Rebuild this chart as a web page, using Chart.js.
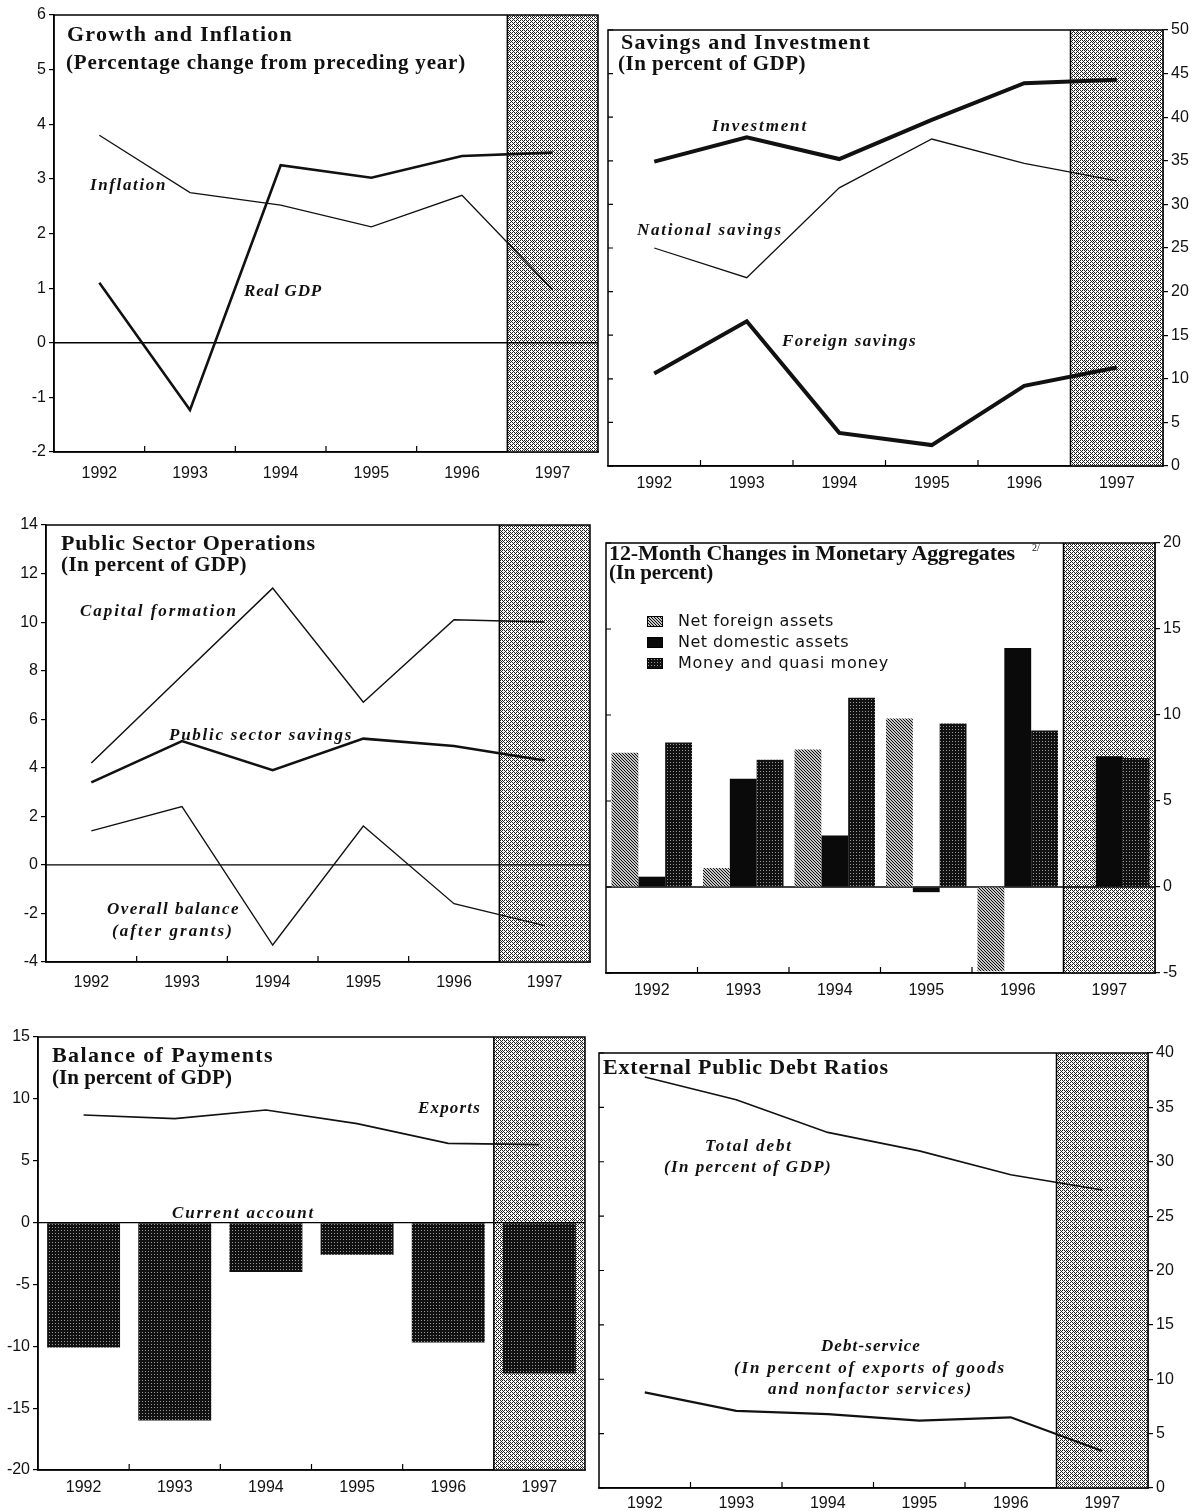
<!DOCTYPE html>
<html>
<head>
<meta charset="utf-8">
<script src="https://cdn.jsdelivr.net/npm/chart.js@4.4.1/dist/chart.umd.min.js"></script>
<style>
  body { margin: 0; background: #fff; width: 1200px; height: 1511px; position: relative; overflow: hidden; }
  canvas { position: absolute; }
  .t { position: absolute; white-space: nowrap; line-height: 1; color: #111; z-index: 5;
       font-family: 'Liberation Serif', 'DejaVu Serif', serif; font-weight: bold; }
  .h { font-size: 22px; }
  .h2 { font-size: 21px; }
  .a { font-size: 17px; font-style: italic; }
  .sup { font-size: 10px; font-weight: normal; }
  .lg { font-family: 'DejaVu Sans', sans-serif; font-weight: normal; font-size: 16px; }
</style>
</head>
<body>
<canvas id="growth"></canvas>
<canvas id="savings"></canvas>
<canvas id="public"></canvas>
<canvas id="money"></canvas>
<canvas id="bop"></canvas>
<canvas id="debt"></canvas>
<script>
const years = ['1992', '1993', '1994', '1995', '1996', '1997'];

// Growth and Inflation (percentage change from preceding year)
const growthTicks = [-2, -1, 0, 1, 2, 3, 4, 5, 6];
const inflation = [3.8, 2.75, 2.52, 2.12, 2.7, 0.97];
const realGdp = [1.1, -1.23, 3.25, 3.02, 3.42, 3.48];

// Savings and Investment (in percent of GDP)
const savingsTicks = [0, 5, 10, 15, 20, 25, 30, 35, 40, 45, 50];
const investment = [34.9, 37.7, 35.2, 39.7, 43.9, 44.3];
const nationalSavings = [25.0, 21.6, 31.9, 37.5, 34.7, 32.7];
const foreignSavings = [10.6, 16.6, 3.8, 2.4, 9.2, 11.3];

// Public Sector Operations (in percent of GDP)
const publicTicks = [-4, -2, 0, 2, 4, 6, 8, 10, 12, 14];
const capitalFormation = [4.2, 7.8, 11.4, 6.7, 10.1, 10.0];
const publicSavings = [3.4, 5.1, 3.9, 5.2, 4.9, 4.3];
const overallBalance = [1.4, 2.4, -3.3, 1.6, -1.6, -2.5];

// 12-Month Changes in Monetary Aggregates (in percent)
const moneyTicks = [-5, 0, 5, 10, 15, 20];
const netForeignAssets = [7.8, 1.1, 8.0, 9.8, -4.9, 0];
const netDomesticAssets = [0.6, 6.3, 3.0, -0.3, 13.9, 7.6];
const moneyQuasiMoney = [8.4, 7.4, 11.0, 9.5, 9.1, 7.5];

// Balance of Payments (in percent of GDP)
const bopTicks = [-20, -15, -10, -5, 0, 5, 10, 15];
const exportsGdp = [8.7, 8.4, 9.1, 8.0, 6.4, 6.3];
const currentAccount = [-10.1, -16.0, -4.0, -2.6, -9.7, -12.2];

// External Public Debt Ratios
const debtTicks = [0, 5, 10, 15, 20, 25, 30, 35, 40];
const totalDebt = [37.8, 35.7, 32.7, 31.0, 28.8, 27.4];
const debtService = [8.8, 7.1, 6.8, 6.2, 6.5, 3.4];

const tickFont = { family: "'Liberation Sans Narrow', 'Liberation Sans', Arial, sans-serif", size: 16 };

function makePattern(size, paint) {
  const c = document.createElement('canvas');
  c.width = size; c.height = size;
  const g = c.getContext('2d');
  paint(g, size);
  return g.createPattern(c, 'repeat');
}

// stippled texture for the 1997 projection column
const shadeFill = makePattern(8, (g, s) => {
  g.fillStyle = '#fff'; g.fillRect(0, 0, s, s);
  g.fillStyle = '#222';
  for (let y = 0; y < s; y++) {
    for (let x = 0; x < s; x++) {
      if ((x + y) % 4 === 0 || ((x - y + s) % 4 === 2 && x % 2 === 0) || (x === 5 && y === 1)) {
        g.fillRect(x, y, 1, 1);
      }
    }
  }
});

const hatchFill = makePattern(6, (g, s) => {
  g.fillStyle = '#c4c4c4'; g.fillRect(0, 0, s, s);
  g.fillStyle = '#111';
  for (let y = 0; y < s; y++) {
    for (let x = 0; x < s; x++) {
      if ((x - y + s) % 3 === 0) g.fillRect(x, y, 1, 1);
    }
  }
});

const dotFill = makePattern(3, (g, s) => {
  g.fillStyle = '#111'; g.fillRect(0, 0, s, s);
  g.fillStyle = '#999'; g.fillRect(1, 1, 1, 1);
});

// frame, 1997 shading, zero line and small ticks
const panelDeco = {
  id: 'panelDeco',
  beforeDatasetsDraw(chart, args, opts) {
    const { ctx, chartArea: a, scales: { x, y } } = chart;
    const step = x.getPixelForValue(1) - x.getPixelForValue(0);
    const sx = x.getPixelForValue(4) + step / 2;
    ctx.save();
    ctx.fillStyle = shadeFill;
    ctx.fillRect(sx, a.top, a.right - sx, a.bottom - a.top);
    ctx.strokeStyle = '#000';
    ctx.lineWidth = 1.5;
    ctx.beginPath();
    ctx.moveTo(sx, a.top); ctx.lineTo(sx, a.bottom);
    ctx.stroke();
    ctx.strokeRect(a.left, a.top, a.right - a.left, a.bottom - a.top);

    ctx.lineWidth = 1.2;
    ctx.beginPath();
    for (let i = 0; i < 4; i++) {
      const px = x.getPixelForValue(i) + step / 2;
      ctx.moveTo(px, a.bottom); ctx.lineTo(px, a.bottom - 6);
    }
    if (opts.innerLeft) {
      y.ticks.forEach(t => {
        const py = y.getPixelForValue(t.value);
        ctx.moveTo(a.left, py); ctx.lineTo(a.left + 5, py);
      });
    }
    ctx.stroke();

    if (opts.zero) {
      const zy = y.getPixelForValue(0);
      ctx.lineWidth = 1.3;
      ctx.beginPath();
      ctx.moveTo(a.left, zy); ctx.lineTo(a.right, zy);
      ctx.stroke();
    }
    ctx.restore();
  }
};

function line(data, width) {
  return { type: 'line', data, borderColor: '#111', borderWidth: width, pointRadius: 0,
           tension: 0, fill: false, order: 0 };
}

function panel(id, geo, yTicks, datasets, deco, barOpts) {
  const cv = document.getElementById(id);
  cv.width = geo.cw; cv.height = geo.ch;
  cv.style.left = geo.cx + 'px'; cv.style.top = geo.cy + 'px';
  const right = geo.side === 'right';
  const yW = right ? geo.cx + geo.cw - geo.r : geo.l - geo.cx;
  const xH = geo.cy + geo.ch - geo.b;
  return new Chart(cv, {
    type: 'bar',
    data: { labels: years, datasets },
    plugins: [panelDeco],
    options: {
      responsive: false,
      animation: false,
      events: [],
      layout: {
        padding: {
          left: right ? geo.l - geo.cx : 0,
          right: right ? 0 : geo.cx + geo.cw - geo.r,
          top: geo.t - geo.cy,
          bottom: 0
        }
      },
      datasets: { bar: Object.assign({ borderWidth: 0 }, barOpts || {}) },
      plugins: { legend: { display: false }, tooltip: { enabled: false }, panelDeco: deco },
      scales: {
        x: {
          offset: true,
          grid: { display: false },
          border: { display: true, color: '#000', width: 1.5 },
          ticks: { color: '#111', font: tickFont, padding: geo.xPad, maxRotation: 0, autoSkip: false },
          afterFit(s) { s.height = xH; }
        },
        y: {
          position: geo.side,
          min: yTicks[0],
          max: yTicks[yTicks.length - 1],
          ticks: { stepSize: yTicks[1] - yTicks[0], color: '#111', font: tickFont, padding: 3 },
          grid: { drawOnChartArea: false, drawTicks: true, tickLength: 5, color: '#000', lineWidth: 1.2 },
          border: { display: true, color: '#000', width: 1.5 },
          afterFit(s) { s.width = yW; }
        }
      }
    }
  });
}

panel('growth', { cx: 0, cy: 0, cw: 600, ch: 490, l: 54, t: 15, r: 598, b: 452, side: 'left', xPad: 4 },
  growthTicks, [line(inflation, 1.3), line(realGdp, 2.6)], { zero: true });

panel('savings', { cx: 600, cy: 0, cw: 600, ch: 490, l: 608, t: 30, r: 1163, b: 466, side: 'right', xPad: 0 },
  savingsTicks, [line(investment, 4), line(nationalSavings, 1.3), line(foreignSavings, 4)], { innerLeft: true });

panel('public', { cx: 0, cy: 500, cw: 600, ch: 500, l: 46, t: 525, r: 590, b: 962, side: 'left', xPad: 3 },
  publicTicks, [line(capitalFormation, 1.5), line(publicSavings, 2.6), line(overallBalance, 1.3)], { zero: true });

panel('money', { cx: 600, cy: 500, cw: 600, ch: 500, l: 606, t: 543, r: 1155, b: 973, side: 'right', xPad: 0 },
  moneyTicks, [
    { label: 'Net foreign assets', data: netForeignAssets, backgroundColor: hatchFill },
    { label: 'Net domestic assets', data: netDomesticAssets, backgroundColor: '#0a0a0a' },
    { label: 'Money and quasi money', data: moneyQuasiMoney, backgroundColor: dotFill }
  ], { zero: true, innerLeft: true }, { categoryPercentage: 0.88, barPercentage: 1 });

panel('bop', { cx: 0, cy: 1010, cw: 600, ch: 501, l: 38, t: 1037, r: 585, b: 1470, side: 'left', xPad: 0 },
  bopTicks, [
    { label: 'Current account', data: currentAccount, backgroundColor: dotFill, order: 1 },
    line(exportsGdp, 1.6)
  ], { zero: true }, { categoryPercentage: 1, barPercentage: 0.8 });

panel('debt', { cx: 590, cy: 1010, cw: 610, ch: 501, l: 599, t: 1053, r: 1148, b: 1488, side: 'right', xPad: -2 },
  debtTicks, [line(totalDebt, 1.6), line(debtService, 2.2)], { innerLeft: true });

// titles and in-chart labels: text, left x, centre y, target width, class
const texts = [
  ['Growth and Inflation', 67, 34, 226, 'h'],
  ['(Percentage change from preceding year)', 66, 62, 400, 'h2'],
  ['Inflation', 90, 184, 77, 'a'],
  ['Real GDP', 244, 290, 78, 'a'],
  ['Savings and Investment', 621, 42, 250, 'h'],
  ['(In percent of GDP)', 618, 63, 188, 'h2'],
  ['Investment', 712, 125, 96, 'a'],
  ['National savings', 637, 229, 146, 'a'],
  ['Foreign savings', 782, 340, 135, 'a'],
  ['Public Sector Operations', 61, 543, 255, 'h'],
  ['(In percent of GDP)', 61, 564, 186, 'h2'],
  ['Capital formation', 80, 610, 158, 'a'],
  ['Public sector savings', 169, 734, 184, 'a'],
  ['Overall balance', 107, 908, 133, 'a'],
  ['(after grants)', 112, 930, 122, 'a'],
  ['12-Month Changes in Monetary Aggregates', 609, 553, 406, 'h'],
  ['2/', 1032, 548, 8, 'sup'],
  ['(In percent)', 609, 572, 104, 'h2'],
  ['Net foreign assets', 678, 621, 156, 'lg'],
  ['Net domestic assets', 678, 642, 171, 'lg'],
  ['Money and quasi money', 678, 663, 211, 'lg'],
  ['Balance of Payments', 52, 1055, 222, 'h'],
  ['(In percent of GDP)', 52, 1077, 180, 'h2'],
  ['Exports', 418, 1107, 63, 'a'],
  ['Current account', 172, 1212, 143, 'a'],
  ['External Public Debt Ratios', 603, 1067, 286, 'h'],
  ['Total debt', 705, 1145, 88, 'a'],
  ['(In percent of GDP)', 664, 1166, 168, 'a'],
  ['Debt-service', 821, 1345, 100, 'a'],
  ['(In percent of exports of goods', 734, 1367, 272, 'a'],
  ['and nonfactor services)', 768, 1388, 205, 'a']
];

texts.forEach(([txt, x, cy, w, cls]) => {
  const d = document.createElement('div');
  d.className = 't ' + cls;
  d.textContent = txt;
  document.body.appendChild(d);
  const fs = parseFloat(getComputedStyle(d).fontSize);
  d.style.left = x + 'px';
  d.style.top = (cy - fs * 0.5) + 'px';
  const natural = d.getBoundingClientRect().width;
  d.style.letterSpacing = ((w - natural) / txt.length) + 'px';
});

// legend swatches for the monetary panel
[[hatchFill, 621], ['#0a0a0a', 642], [dotFill, 663]].forEach(([fill, cy]) => {
  const sw = document.createElement('canvas');
  sw.width = 16; sw.height = 11;
  sw.style.left = '647px'; sw.style.top = (cy - 5) + 'px';
  const g = sw.getContext('2d');
  g.fillStyle = fill; g.fillRect(0, 0, 16, 11);
  g.strokeStyle = '#000'; g.strokeRect(0.5, 0.5, 15, 10);
  document.body.appendChild(sw);
});
</script>
</body>
</html>
